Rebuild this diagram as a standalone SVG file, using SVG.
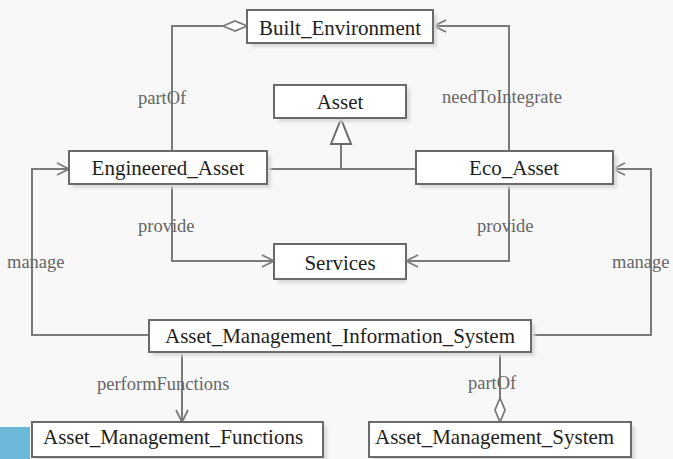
<svg xmlns="http://www.w3.org/2000/svg" width="673" height="459" viewBox="0 0 673 459">
  <defs>
    <style>
      .box { fill: #ffffff; stroke: #6a6a6a; stroke-width: 2; }
      .shadow { fill: #d9d9d9; filter: url(#soft); }
      .name { font-family: 'Liberation Serif', serif; font-size: 21px; fill: #1e1e1e; }
      .lbl { font-family: 'Liberation Serif', serif; font-size: 18.5px; fill: #666666; }
      .edge { fill: none; stroke: #7a7a7a; stroke-width: 2; }
    </style>
    <filter id="soft" x="-10%" y="-30%" width="120%" height="160%">
      <feGaussianBlur stdDeviation="1.5"/>
    </filter>
    <marker id="open" viewBox="0 0 14 14" refX="13" refY="7" markerWidth="14" markerHeight="14" markerUnits="userSpaceOnUse" orient="auto">
      <path d="M1,1 L13,7 L1,13" fill="none" stroke="#7a7a7a" stroke-width="1.8"/>
    </marker>
    <marker id="diamond" viewBox="0 0 26 12" refX="25" refY="6" markerWidth="26" markerHeight="12" markerUnits="userSpaceOnUse" orient="auto">
      <path d="M1,6 L13,1 L25,6 L13,11 Z" fill="#ffffff" stroke="#7a7a7a" stroke-width="1.8"/>
    </marker>
    <marker id="triangle" viewBox="0 0 28 24" refX="26" refY="12" markerWidth="28" markerHeight="24" markerUnits="userSpaceOnUse" orient="auto">
      <path d="M1,2 L26,12 L1,22 Z" fill="#ffffff" stroke="#6a6a6a" stroke-width="2"/>
    </marker>
  </defs>

  <rect x="0" y="0" width="673" height="459" fill="#f8f8f8"/>
  <rect x="0" y="427" width="30" height="32" fill="#6cb8d9"/>

  <g id="connectors">
    <!-- Engineered_Asset partOf Built_Environment -->
    <path class="edge" d="M172,151 L172,26 L247,26" marker-end="url(#diamond)"/>
    <!-- Eco_Asset needToIntegrate Built_Environment -->
    <path class="edge" d="M509,151 L509,26 L434,26" marker-end="url(#open)"/>
    <!-- generalisation to Asset -->
    <path class="edge" d="M267,169 L416,169"/>
    <path class="edge" d="M341,169 L341,119" marker-end="url(#triangle)"/>
    <!-- provide Services -->
    <path class="edge" d="M172,184 L172,261 L274,261" marker-end="url(#open)"/>
    <path class="edge" d="M509,184 L509,261 L406,261" marker-end="url(#open)"/>
    <!-- manage -->
    <path class="edge" d="M149,335 L32,335 L32,169 L69,169" marker-end="url(#open)"/>
    <path class="edge" d="M531,335 L651,335 L651,169 L613,169" marker-end="url(#open)"/>
    <!-- performFunctions -->
    <path class="edge" d="M182,352 L182,422" marker-end="url(#open)"/>
    <!-- partOf Asset_Management_System -->
    <path class="edge" d="M500,352 L500,422" marker-end="url(#diamond)"/>

    <text class="lbl" x="138" y="104">partOf</text>
    <text class="lbl" x="442" y="103">needToIntegrate</text>
    <text class="lbl" x="138" y="232">provide</text>
    <text class="lbl" x="477" y="232">provide</text>
    <text class="lbl" x="7" y="268">manage</text>
    <text class="lbl" x="612" y="268">manage</text>
    <text class="lbl" x="97" y="390">performFunctions</text>
    <text class="lbl" x="468" y="389">partOf</text>
  </g>

  <g id="built_environment">
    <rect class="shadow" x="251" y="14" width="186" height="33"/>
    <rect class="box" x="247" y="10" width="186" height="33"/>
    <text class="name" x="340" y="35" text-anchor="middle">Built_Environment</text>
  </g>

  <g id="asset">
    <rect class="shadow" x="278" y="89" width="132" height="33"/>
    <rect class="box" x="274" y="85" width="132" height="33"/>
    <text class="name" x="340" y="109" text-anchor="middle">Asset</text>
  </g>

  <g id="engineered_asset">
    <rect class="shadow" x="73" y="155" width="198" height="33"/>
    <rect class="box" x="69" y="151" width="198" height="33"/>
    <text class="name" x="168" y="175" text-anchor="middle">Engineered_Asset</text>
  </g>

  <g id="eco_asset">
    <rect class="shadow" x="420" y="155" width="197" height="33"/>
    <rect class="box" x="416" y="151" width="197" height="33"/>
    <text class="name" x="514" y="175" text-anchor="middle">Eco_Asset</text>
  </g>

  <g id="services">
    <rect class="shadow" x="278" y="248" width="128" height="35"/>
    <rect class="box" x="274" y="244" width="132" height="35"/>
    <text class="name" x="340" y="270" text-anchor="middle">Services</text>
  </g>

  <g id="asset_management_information_system">
    <rect class="shadow" x="153" y="324" width="382" height="32"/>
    <rect class="box" x="149" y="320" width="382" height="32"/>
    <text class="name" x="340" y="343" text-anchor="middle">Asset_Management_Information_System</text>
  </g>

  <g id="asset_management_functions">
    <rect class="shadow" x="36" y="426" width="291" height="35"/>
    <rect class="box" x="32" y="422" width="291" height="35"/>
    <text class="name" x="43" y="444">Asset_Management_Functions</text>
  </g>

  <g id="asset_management_system">
    <rect class="shadow" x="373" y="426" width="262" height="35"/>
    <rect class="box" x="369" y="422" width="262" height="35"/>
    <text class="name" x="375" y="444">Asset_Management_System</text>
  </g>
</svg>
